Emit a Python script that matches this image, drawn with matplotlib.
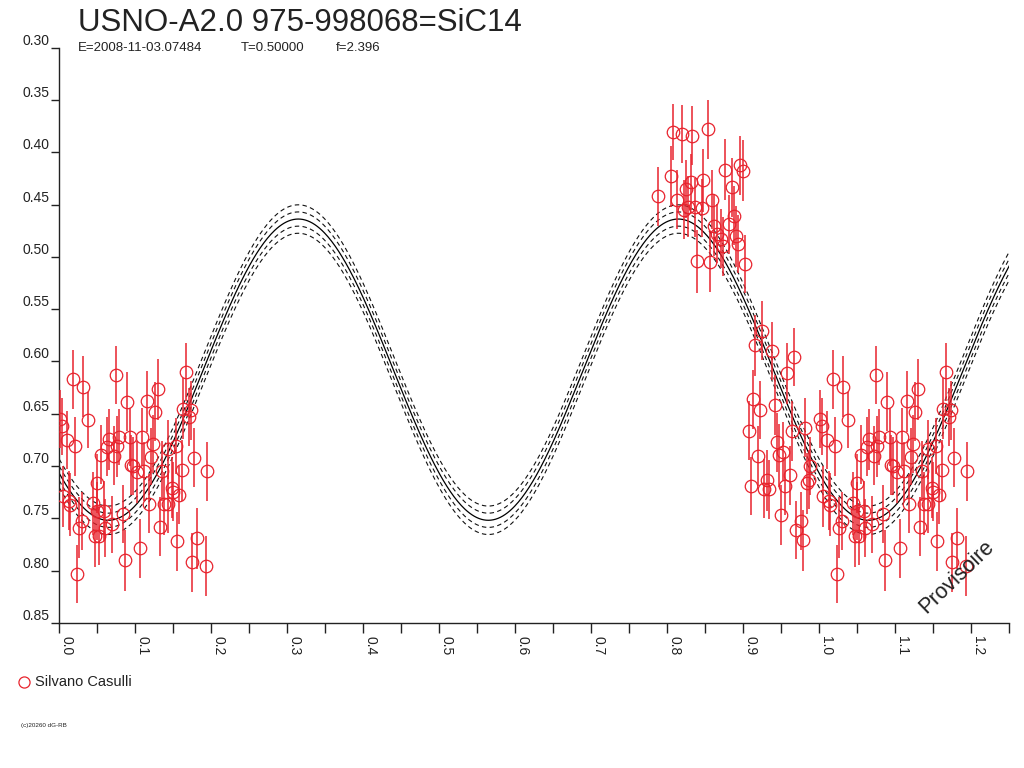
import numpy as np
import matplotlib
matplotlib.use("Agg")
import matplotlib.pyplot as plt
from matplotlib.lines import Line2D

plt.rcParams['font.family'] = ['Liberation Sans', 'DejaVu Sans']

title = "USNO-A2.0 975-998068=SiC14"
sub_parts = ["E=2008-11-03.07484", "T=0.50000", "f=2.396"]
observer = "Silvano Casulli"
credit = "(c)20260 dG-RB"
stamp = "Provisoire"

phase = [
    0.001, 0.003, 0.0176, 0.0316, 0.0097, 0.021, 0.0378, 0.0053, 0.0128, 0.0135,
    0.0237, 0.026, 0.0295, 0.049, 0.047, 0.052, 0.0447, 0.049, 0.0588, 0.0605,
    0.0697, 0.0549, 0.0658, 0.0632, 0.0724, 0.075, 0.079, 0.0763, 0.0887, 0.093,
    0.0943, 0.0974, 0.1026, 0.0834, 0.0864, 0.106, 0.1092, 0.115, 0.1118, 0.120,
    0.1237, 0.1263, 0.1295, 0.118, 0.1325, 0.1355, 0.1382, 0.1426, 0.1434, 0.148,
    0.149, 0.153, 0.158, 0.161, 0.155, 0.1667, 0.163, 0.1729, 0.1707, 0.175,
    0.1808, 0.1776, 0.1926, 0.1947,
    0.808, 0.819, 0.833, 0.8536, 0.8045, 0.7878, 0.813, 0.8308, 0.8474, 0.8246,
    0.822, 0.8276, 0.8365, 0.8453, 0.8588, 0.8763, 0.8847, 0.8957, 0.8992, 0.8816,
    0.8882, 0.8615, 0.865, 0.8707, 0.8737, 0.890, 0.8934, 0.8395, 0.8562, 0.9022,
    0.925, 0.9158, 0.938, 0.9667, 0.958, 0.9132, 0.9215, 0.9413, 0.9075, 0.981,
    0.9637, 0.944, 0.9527, 0.9474, 0.9193, 0.9615, 0.9097, 0.9308, 0.9277, 0.9338,
    0.9549, 0.9832, 0.9878, 0.986, 0.9492, 0.9693, 0.9759, 0.9781,
]
mag = [
    0.655, 0.662, 0.617, 0.624, 0.675, 0.681, 0.656, 0.729, 0.733, 0.737,
    0.803, 0.759, 0.7525, 0.7165, 0.767, 0.767, 0.7357, 0.743, 0.743, 0.759,
    0.7557, 0.689, 0.6745, 0.6815, 0.690, 0.613, 0.672, 0.681, 0.6385, 0.6723,
    0.699, 0.700, 0.7057, 0.7459, 0.790, 0.7787, 0.672, 0.638, 0.705, 0.691,
    0.679, 0.648, 0.6267, 0.736, 0.758, 0.7048, 0.736, 0.736, 0.684, 0.7207,
    0.7245, 0.681, 0.7277, 0.704, 0.772, 0.610, 0.645, 0.6468, 0.653, 0.792,
    0.769, 0.692, 0.7955, 0.705,
    0.3805, 0.3824, 0.384, 0.378, 0.4229, 0.442, 0.4452, 0.4283, 0.4268, 0.435,
    0.4548, 0.452, 0.4525, 0.4531, 0.4452, 0.4165, 0.4334, 0.4124, 0.4175, 0.469,
    0.4605, 0.470, 0.4777, 0.4825, 0.4898, 0.4803, 0.4875, 0.5041, 0.5047, 0.5066,
    0.5704, 0.5844, 0.590, 0.5955, 0.6114, 0.6363, 0.6465, 0.6417, 0.666, 0.6633,
    0.6666, 0.6774, 0.6862, 0.6898, 0.6904, 0.7089, 0.7191, 0.7137, 0.7216, 0.7223,
    0.7191, 0.7165, 0.700, 0.713, 0.7468, 0.7611, 0.7525, 0.771,
]
err = [
    0.028, 0.027, 0.028, 0.029, 0.028, 0.028, 0.027, 0.029, 0.028, 0.030,
    0.028, 0.029, 0.028, 0.028, 0.029, 0.028, 0.030, 0.028, 0.029, 0.028,
    0.027, 0.028, 0.029, 0.028, 0.028, 0.028, 0.027, 0.029, 0.028, 0.028,
    0.029, 0.028, 0.030, 0.028, 0.029, 0.028, 0.028, 0.029, 0.028, 0.027,
    0.028, 0.028, 0.029, 0.028, 0.028, 0.029, 0.030, 0.028, 0.028, 0.029,
    0.028, 0.027, 0.028, 0.029, 0.028, 0.028, 0.029, 0.028, 0.028, 0.028,
    0.029, 0.028, 0.029, 0.028,
    0.027, 0.028, 0.028, 0.028, 0.029, 0.028, 0.028, 0.027, 0.030, 0.028,
    0.028, 0.029, 0.028, 0.028, 0.028, 0.029, 0.028, 0.028, 0.029, 0.028,
    0.028, 0.029, 0.028, 0.028, 0.028, 0.029, 0.028, 0.030, 0.029, 0.028,
    0.028, 0.029, 0.028, 0.028, 0.029, 0.028, 0.028, 0.029, 0.028, 0.028,
    0.029, 0.028, 0.028, 0.030, 0.029, 0.028, 0.028, 0.029, 0.028, 0.028,
    0.028, 0.029, 0.028, 0.028, 0.029, 0.028, 0.028, 0.029,
]

# sine fit shown with its error envelope
fit_mean = 0.6078
fit_amp = 0.144
fit_period = 0.5
fit_max_phase = 0.3145
fit_offsets = [-0.0136, -0.0068, 0.0, 0.0068, 0.0136]

x_max = 1.25
y_ticks = [0.30, 0.35, 0.40, 0.45, 0.50, 0.55, 0.60, 0.65, 0.70, 0.75, 0.80, 0.85]
x_ticks = [0.0, 0.1, 0.2, 0.3, 0.4, 0.5, 0.6, 0.7, 0.8, 0.9, 1.0, 1.1, 1.2]

red = '#e8232d'
W, H = 1024, 768

fig = plt.figure(figsize=(W / 100, H / 100), dpi=100)
ax = fig.add_axes([59.3 / W, 1 - 623 / H, (1009.3 - 59.3) / W, (623 - 47.7) / H])

# repeat the early phases after 1.0
ph = np.array(phase)
mg = np.array(mag)
er = np.array(err)
wrap = ph < x_max - 1
ph_all = np.concatenate([ph, ph[wrap] + 1])
mg_all = np.concatenate([mg, mg[wrap]])
er_all = np.concatenate([er, er[wrap]])

xf = np.linspace(0, x_max, 800)
for off in fit_offsets:
    yf = fit_mean - fit_amp * np.cos(2 * np.pi * (xf - fit_max_phase) / fit_period) + off
    if off == 0:
        ax.plot(xf, yf, color='black', lw=0.9, zorder=2)
    else:
        ax.plot(xf, yf, color='#111111', lw=0.8, ls=(0, (4, 3)), zorder=2)

ax.errorbar(ph_all, mg_all, yerr=er_all, fmt='none', ecolor=red, elinewidth=1.1,
            capsize=0, zorder=3)
ax.plot(ph_all, mg_all, ls='none', marker='o', ms=9, mfc='none', mec=red, mew=0.9,
        zorder=4)

ax.set_xlim(0, x_max)
ax.set_ylim(0.85, 0.30)
for s in ['top', 'right']:
    ax.spines[s].set_visible(False)
for s in ['left', 'bottom']:
    ax.spines[s].set_color('#222222')
    ax.spines[s].set_linewidth(1.0)

ax.set_yticks(y_ticks)
ax.set_yticklabels([f"{v:.2f}" for v in y_ticks], fontsize=10, color='#222222')
for t in ax.get_yticklabels():
    t.set_va('bottom')
ax.tick_params(axis='y', direction='out', length=6, width=1, pad=1, colors='#222222')

ax.set_xticks(x_ticks)
ax.set_xticks(np.array(x_ticks) + 0.05, minor=True)
ax.set_xticklabels([f"{v:.1f}" for v in x_ticks], fontsize=10, color='#222222',
                   rotation=-90, ha='left', va='top')
ax.tick_params(axis='x', which='both', direction='out', length=7, width=1, pad=2,
               colors='#222222')

fig.text(78 / W, 1 - 31 / H, title, fontsize=22.5, color='#222222', va='baseline')
sub_x = [78, 241, 336]
for sx, txt in zip(sub_x, sub_parts):
    fig.text(sx / W, 1 - 48 / H, txt, fontsize=9.5, color='#222222', va='center')

fig.add_artist(Line2D([24 / W], [1 - 682 / H], marker='o', ms=8, mfc='none',
                      mec=red, mew=0.9, transform=fig.transFigure))
fig.text(35 / W, 1 - 682 / H, observer, fontsize=10.5, color='#222222', va='center')
fig.text(21 / W, 1 - 725 / H, credit, fontsize=4.5, color='#222222', va='center')

fig.text(957 / W, 1 - 577 / H, stamp, fontsize=15.5, color='#222222', rotation=44,
         ha='center', va='center')

fig.savefig("out.png", dpi=100)
